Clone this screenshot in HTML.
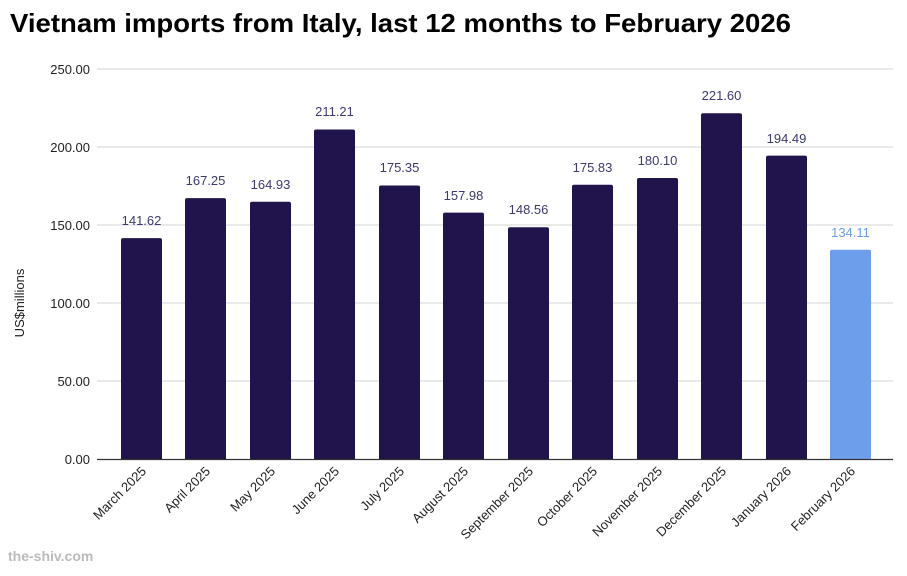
<!DOCTYPE html>
<html><head><meta charset="utf-8"><style>
html,body{margin:0;padding:0;background:#fff;}
svg{display:block;font-family:"Liberation Sans",Arial,sans-serif;}
</style></head><body>
<svg width="907" height="576" viewBox="0 0 907 576" xmlns="http://www.w3.org/2000/svg">
<text x="10" y="32" font-size="26" font-weight="bold" fill="#000" textLength="781" lengthAdjust="spacingAndGlyphs">Vietnam imports from Italy, last 12 months to February 2026</text>
<g stroke="#dcdcdc" stroke-width="1.2">
<line x1="97" x2="893" y1="69" y2="69"/>
<line x1="97" x2="893" y1="147" y2="147"/>
<line x1="97" x2="893" y1="225" y2="225"/>
<line x1="97" x2="893" y1="303" y2="303"/>
<line x1="97" x2="893" y1="381" y2="381"/>
</g>
<g font-size="13" fill="#222" text-anchor="end">
<text x="90" y="74">250.00</text>
<text x="90" y="152">200.00</text>
<text x="90" y="230">150.00</text>
<text x="90" y="308">100.00</text>
<text x="90" y="386">50.00</text>
<text x="90" y="464">0.00</text>
</g>
<text transform="translate(24,303) rotate(-90)" font-size="13" fill="#222" text-anchor="middle">US$millions</text>
<g fill="#21134c">
<rect x="121" y="238.1" width="41" height="224" rx="2"/>
<rect x="185" y="198.1" width="41" height="264" rx="2"/>
<rect x="250" y="201.7" width="41" height="260" rx="2"/>
<rect x="314" y="129.5" width="41" height="332" rx="2"/>
<rect x="379" y="185.5" width="41" height="276" rx="2"/>
<rect x="443" y="212.6" width="41" height="249" rx="2"/>
<rect x="508" y="227.2" width="41" height="234" rx="2"/>
<rect x="572" y="184.7" width="41" height="277" rx="2"/>
<rect x="637" y="178.0" width="41" height="284" rx="2"/>
<rect x="701" y="113.3" width="41" height="348" rx="2"/>
<rect x="766" y="155.6" width="41" height="306" rx="2"/>
</g>
<rect x="830" y="249.8" width="41" height="212" rx="2" fill="#6d9eeb"/>
<rect x="97" y="460" width="800" height="4" fill="#fff"/>
<line x1="97" x2="893" y1="459.5" y2="459.5" stroke="#333" stroke-width="1.2"/>
<g font-size="13" fill="#3c3a6e" text-anchor="middle">
<text x="141.5" y="225">141.62</text>
<text x="205.5" y="185">167.25</text>
<text x="270.5" y="189">164.93</text>
<text x="334.5" y="116">211.21</text>
<text x="399.5" y="172">175.35</text>
<text x="463.5" y="200">157.98</text>
<text x="528.5" y="214">148.56</text>
<text x="592.5" y="172">175.83</text>
<text x="657.5" y="165">180.10</text>
<text x="721.5" y="100">221.60</text>
<text x="786.5" y="143">194.49</text>
<text x="850.5" y="237" fill="#6d9eeb">134.11</text>
</g>
<g font-size="13" fill="#222" text-anchor="end">
<text transform="translate(147,472) rotate(-45)">March 2025</text>
<text transform="translate(211,472) rotate(-45)">April 2025</text>
<text transform="translate(276,472) rotate(-45)">May 2025</text>
<text transform="translate(340,472) rotate(-45)">June 2025</text>
<text transform="translate(405,472) rotate(-45)">July 2025</text>
<text transform="translate(469,472) rotate(-45)">August 2025</text>
<text transform="translate(534,472) rotate(-45)">September 2025</text>
<text transform="translate(598,472) rotate(-45)">October 2025</text>
<text transform="translate(663,472) rotate(-45)">November 2025</text>
<text transform="translate(727,472) rotate(-45)">December 2025</text>
<text transform="translate(792,472) rotate(-45)">January 2026</text>
<text transform="translate(856,472) rotate(-45)">February 2026</text>
</g>
<text x="8" y="561" font-size="14" font-weight="bold" fill="#bbb">the-shiv.com</text>
</svg>
</body></html>
